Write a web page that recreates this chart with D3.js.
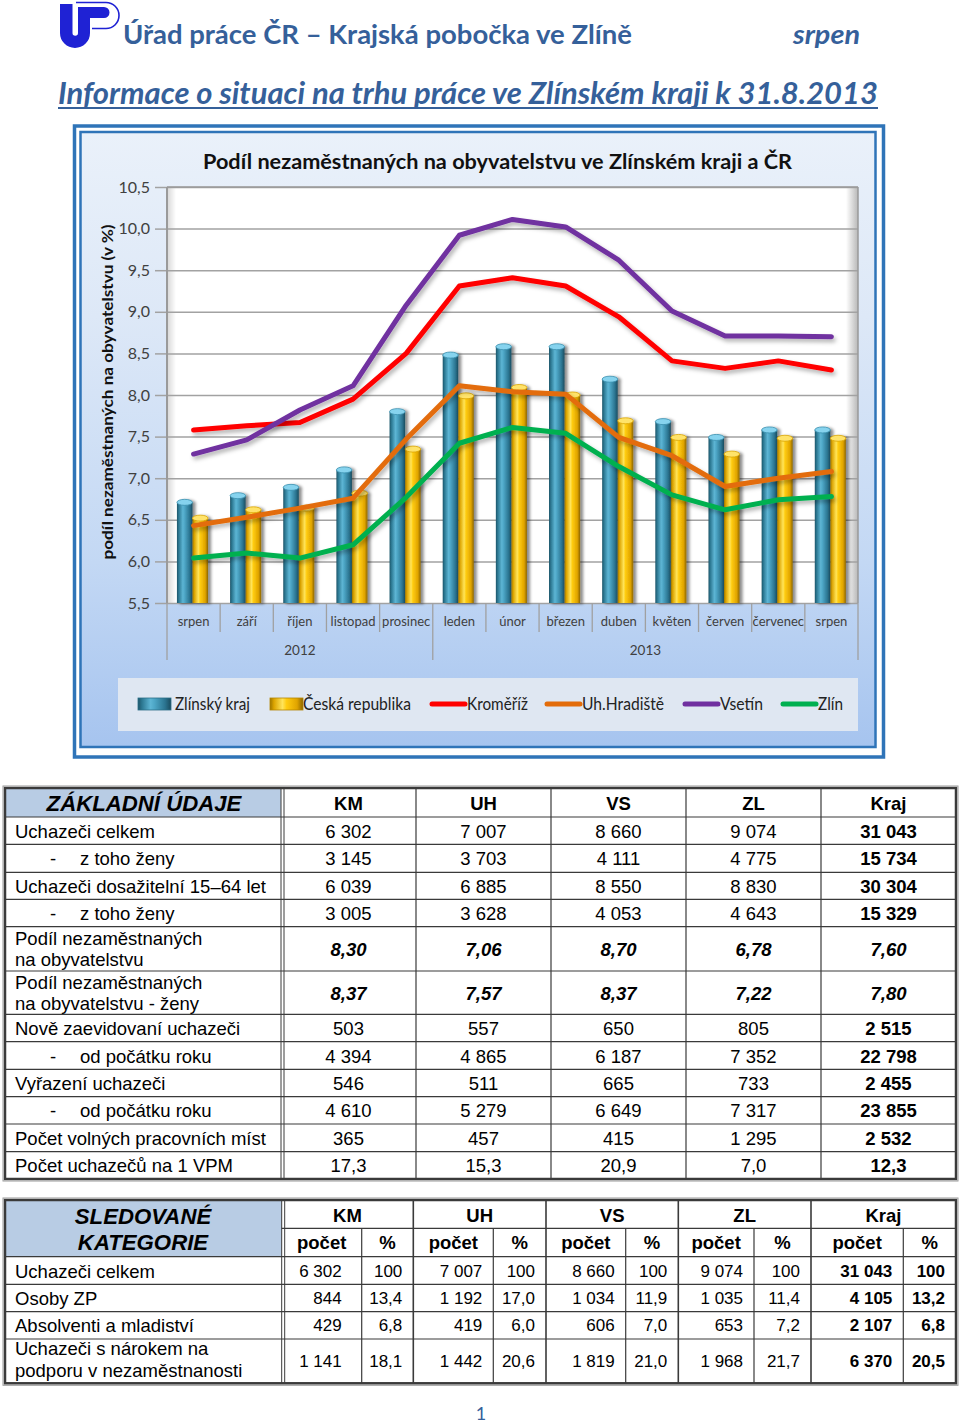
<!DOCTYPE html>
<html><head><meta charset="utf-8">
<script src="https://cdn.jsdelivr.net/npm/d3@7"></script>
<style>
html,body{margin:0;padding:0;background:#fff;}
svg{display:block;}
</style></head><body>
<svg id="page" width="960" height="1427"></svg>
<script>
// ---------------- DATA ----------------
const headerTitle = "Úřad práce ČR – Krajská pobočka ve Zlíně";
const headerMonth = "srpen";
const subTitle = "Informace o situaci na trhu práce ve Zlínském kraji k 31.8.2013";
const chartTitle = "Podíl nezaměstnaných na obyvatelstvu ve Zlínském kraji a ČR";
const yAxisTitle = "podíl nezaměstnaných na obyvatelstvu (v %)";

const months = ["srpen","září","říjen","listopad","prosinec","leden","únor","březen","duben","květen","červen","červenec","srpen"];
const years = ["2012","2013"];
const yearStart = [0, 5];
const yearEnd = [5, 13];
const yTicks = [5.5, 6.0, 6.5, 7.0, 7.5, 8.0, 8.5, 9.0, 9.5, 10.0, 10.5];

const zlinskyKraj     = [6.71, 6.79, 6.89, 7.10, 7.80, 8.48, 8.58, 8.58, 8.19, 7.68, 7.49, 7.58, 7.58];
const ceskaRepublika  = [6.52, 6.62, 6.64, 6.82, 7.35, 7.99, 8.09, 8.00, 7.69, 7.49, 7.29, 7.48, 7.48];
const kromeriz        = [7.58, 7.63, 7.67, 7.95, 8.50, 9.31, 9.41, 9.31, 8.94, 8.41, 8.32, 8.41, 8.30];
const uhHradiste      = [6.43, 6.53, 6.64, 6.76, 7.47, 8.11, 8.04, 8.01, 7.49, 7.27, 6.90, 7.00, 7.08];
const vsetin          = [7.29, 7.46, 7.82, 8.11, 9.08, 9.92, 10.11, 10.02, 9.62, 9.01, 8.71, 8.71, 8.70];
const zlin            = [6.04, 6.10, 6.04, 6.20, 6.77, 7.42, 7.61, 7.54, 7.14, 6.80, 6.62, 6.74, 6.78];

const barSeriesNames = ["Zlínský kraj", "Česká republika"];
const lineSeriesNames = ["Kroměříž", "Uh.Hradiště", "Vsetín", "Zlín"];

// table 1
const table1Title = "ZÁKLADNÍ ÚDAJE";
const table1Cols = ["KM","UH","VS","ZL","Kraj"];
const table1Labels = ["Uchazeči celkem","z toho ženy","Uchazeči dosažitelní 15–64 let","z toho ženy",
  "Podíl nezaměstnaných|na obyvatelstvu","Podíl nezaměstnaných|na obyvatelstvu - ženy",
  "Nově zaevidovaní uchazeči","od počátku roku","Vyřazení uchazeči","od počátku roku",
  "Počet volných pracovních míst","Počet uchazečů na 1 VPM"];
const table1Values = [
  ["6 302","7 007","8 660","9 074","31 043"],
  ["3 145","3 703","4 111","4 775","15 734"],
  ["6 039","6 885","8 550","8 830","30 304"],
  ["3 005","3 628","4 053","4 643","15 329"],
  ["8,30","7,06","8,70","6,78","7,60"],
  ["8,37","7,57","8,37","7,22","7,80"],
  ["503","557","650","805","2 515"],
  ["4 394","4 865","6 187","7 352","22 798"],
  ["546","511","665","733","2 455"],
  ["4 610","5 279","6 649","7 317","23 855"],
  ["365","457","415","1 295","2 532"],
  ["17,3","15,3","20,9","7,0","12,3"]
];
const table1SubRows = [1,3,7,9];
const table1RateRows = [4,5];

// table 2
const table2Title = ["SLEDOVANÉ","KATEGORIE"];
const table2Groups = ["KM","UH","VS","ZL","Kraj"];
const table2SubHeads = ["počet","%"];
const table2Labels = ["Uchazeči celkem","Osoby ZP","Absolventi a mladiství","Uchazeči s nárokem na|podporu v nezaměstnanosti"];
const table2Values = [
  ["6 302","100","7 007","100","8 660","100","9 074","100","31 043","100"],
  ["844","13,4","1 192","17,0","1 034","11,9","1 035","11,4","4 105","13,2"],
  ["429","6,8","419","6,0","606","7,0","653","7,2","2 107","6,8"],
  ["1 141","18,1","1 442","20,6","1 819","21,0","1 968","21,7","6 370","20,5"]
];
const pageNumber = "1";

// ---------------- DRAW ----------------
const svg = d3.select("#page");
const defs = svg.append("defs");
const CAL = "Lato, 'Open Sans', sans-serif";
const ARIAL = "'Liberation Sans', Arial, sans-serif";
const HEAD = "#35609a";
const TF = 18.5;   // table label font
const TV2 = 17;    // table 2 values font

function lin(id, stops, vertical) {
  const g = defs.append("linearGradient").attr("id", id)
    .attr("x1",0).attr("y1",0).attr("x2", vertical?0:1).attr("y2", vertical?1:0);
  stops.forEach(s => g.append("stop").attr("offset", s[0]).attr("stop-color", s[1]).attr("stop-opacity", s[2]===undefined?1:s[2]));
}
lin("bgGrad", [[0,"#eaf1fa"],[0.3,"#dde8f7"],[0.7,"#c3d8f4"],[1,"#a6c4ef"]], true);
lin("tealGrad", [[0,"#1d5569"],[0.12,"#2c7892"],[0.38,"#5db5d4"],[0.5,"#4da6c6"],[0.82,"#2b7490"],[1,"#1a4b5e"]]);
lin("yellowGrad", [[0,"#9a7400"],[0.12,"#dca400"],[0.38,"#ffe45a"],[0.5,"#ffcc10"],[0.82,"#e0a400"],[1,"#8c6600"]]);
lin("leftWall", [[0,"#000",0.16],[1,"#000",0]]);
lin("rightWall", [[0,"#000",0],[1,"#000",0.28]]);

const fb = defs.append("filter").attr("id","barShadow").attr("x","-50%").attr("y","-10%").attr("width","200%").attr("height","120%");
fb.append("feDropShadow").attr("dx",3).attr("dy",1).attr("stdDeviation",1.6).attr("flood-color","#000").attr("flood-opacity",0.45);
const fl = defs.append("filter").attr("id","lineShadow").attr("x","-10%").attr("y","-20%").attr("width","120%").attr("height","140%");
fl.append("feDropShadow").attr("dx",2).attr("dy",3).attr("stdDeviation",2).attr("flood-color","#000").attr("flood-opacity",0.3);

// ---- header ----
const logo = svg.append("g");
logo.append("path")
  .attr("d","M60,4 H72.5 V33 A2.75,2.75 0 0 0 78,33 V7 H104 A5.5,5.5 0 0 1 104,18 H90 V33 A15,15 0 0 1 60,33 Z")
  .attr("fill","#1f22d4");
logo.append("path").attr("d","M76,2.5 H106 A13,13 0 0 1 106,28.5 H92")
  .attr("fill","none").attr("stroke","#1f22d4").attr("stroke-width",1.6);

svg.append("text").attr("x",123).attr("y",44).attr("font-family",CAL).attr("font-weight",700)
  .attr("font-size",27).attr("fill",HEAD).attr("textLength",509).attr("lengthAdjust","spacingAndGlyphs").text(headerTitle);
svg.append("text").attr("x",793).attr("y",44).attr("font-family",CAL).attr("font-weight",700).attr("font-style","italic")
  .attr("font-size",27).attr("fill",HEAD).attr("textLength",67).attr("lengthAdjust","spacingAndGlyphs").text(headerMonth);
svg.append("text").attr("x",58).attr("y",104).attr("font-family",CAL).attr("font-weight",700).attr("font-style","italic")
  .attr("font-size",30).attr("fill",HEAD).attr("textLength",820).attr("lengthAdjust","spacingAndGlyphs").text(subTitle);
svg.append("line").attr("x1",58).attr("x2",878).attr("y1",108).attr("y2",108).attr("stroke",HEAD).attr("stroke-width",2);

// ---- chart frame ----
svg.append("rect").attr("x",74.5).attr("y",126).attr("width",809).attr("height",631)
  .attr("fill","#fff").attr("stroke","#2f74b8").attr("stroke-width",3.5);
svg.append("rect").attr("x",80.5).attr("y",132).attr("width",795).attr("height",615)
  .attr("fill","url(#bgGrad)").attr("stroke","#2f74b8").attr("stroke-width",2.5);

svg.append("text").attr("x",497.5).attr("y",169).attr("text-anchor","middle").attr("font-family",CAL)
  .attr("font-weight",700).attr("font-size",20.5).attr("fill","#111").attr("textLength",589)
  .attr("lengthAdjust","spacingAndGlyphs").text(chartTitle);

const PL = 167, PR = 858, PT = 187, PB = 603;
const x0 = d3.scaleBand().domain(d3.range(months.length)).range([PL, PR]);
const x1 = d3.scaleBand().domain([0,1]).range([0, x0.bandwidth()]).paddingInner(0).paddingOuter(0.71).align(0.45);
const y = d3.scaleLinear().domain([5.5, 10.5]).range([PB, PT]);

// plot wall
svg.append("rect").attr("x",PL).attr("y",PT).attr("width",PR-PL).attr("height",PB-PT).attr("fill","#fff");
svg.append("rect").attr("x",PL).attr("y",PT).attr("width",9).attr("height",PB-PT).attr("fill","url(#leftWall)");
svg.append("rect").attr("x",PR-12).attr("y",PT).attr("width",12).attr("height",PB-PT).attr("fill","url(#rightWall)");

// grid
svg.append("g").attr("transform",`translate(${PL},0)`)
  .call(d3.axisLeft(y).tickValues(yTicks).tickSize(-(PR-PL)).tickFormat(""))
  .call(g => g.select(".domain").remove())
  .call(g => g.selectAll("line").attr("stroke","#a2a2a2").attr("stroke-width",1.5));

// y axis
svg.append("g").attr("transform",`translate(${PL},0)`)
  .call(d3.axisLeft(y).tickValues(yTicks).tickSize(12).tickPadding(5).tickFormat(d => d.toFixed(1).replace(".",",")))
  .call(g => g.select(".domain").remove())
  .call(g => g.selectAll("line").attr("stroke","#a2a2a2").attr("stroke-width",1.5))
  .call(g => g.selectAll("text").attr("font-family",CAL).attr("font-size",16).attr("fill","#404040"));
svg.append("line").attr("x1",PL).attr("x2",PL).attr("y1",PT).attr("y2",PB).attr("stroke","#9a9a9a").attr("stroke-width",2);
svg.append("line").attr("x1",PR).attr("x2",PR).attr("y1",PT).attr("y2",PB).attr("stroke","#9a9a9a").attr("stroke-width",1.5);
svg.append("line").attr("x1",PL).attr("x2",PR).attr("y1",PT).attr("y2",PT).attr("stroke","#9a9a9a").attr("stroke-width",1.5);

svg.append("text").attr("transform","translate(108,392) rotate(-90)").attr("text-anchor","middle")
  .attr("dy","0.35em").attr("font-family",CAL).attr("font-weight",700).attr("font-size",15.5)
  .attr("fill","#111").attr("textLength",335).attr("lengthAdjust","spacingAndGlyphs").text(yAxisTitle);

// x axis labels
svg.append("g").attr("transform",`translate(0,${PB})`)
  .call(d3.axisBottom(x0).tickSize(0).tickPadding(14).tickFormat(i => months[i]))
  .call(g => g.select(".domain").remove())
  .call(g => g.selectAll("text").attr("font-family",CAL).attr("font-size",13).attr("fill","#404040"));
const edges = d3.range(months.length + 1).map(i => i < months.length ? x0(i) : x0(months.length-1) + x0.bandwidth());
svg.append("g").selectAll("line").data(edges).join("line")
  .attr("x1",d=>d).attr("x2",d=>d).attr("y1",PB)
  .attr("y2",(d,i)=> (yearStart.includes(i) || i===months.length) ? 660 : 632)
  .attr("stroke","#a0a0a0").attr("stroke-width",1.3);
svg.append("g").selectAll("text").data(years).join("text")
  .attr("x",(d,i)=> (edges[yearStart[i]] + edges[yearEnd[i]]) / 2).attr("y",655)
  .attr("text-anchor","middle").attr("font-family",CAL).attr("font-size",13.5).attr("fill","#404040").text(d=>d);

// bars
const barData = [];
months.forEach((m,i) => {
  barData.push({i, s:0, v: zlinskyKraj[i]});
  barData.push({i, s:1, v: ceskaRepublika[i]});
});
const bw = x1.bandwidth();
const bars = svg.append("g").selectAll("g").data(barData).join("g").attr("filter","url(#barShadow)");
bars.append("rect").attr("x",d=>x0(d.i)+x1(d.s)).attr("y",d=>y(d.v)).attr("width",bw)
  .attr("height",d=>PB - y(d.v)).attr("fill",d=> d.s===0 ? "url(#tealGrad)" : "url(#yellowGrad)");
bars.append("ellipse").attr("cx",d=>x0(d.i)+x1(d.s)+bw/2).attr("cy",d=>y(d.v)).attr("rx",bw/2).attr("ry",3)
  .attr("fill",d=> d.s===0 ? "#86d3ee" : "#ffe36a").attr("stroke",d=> d.s===0 ? "#3a8fae" : "#d9a300").attr("stroke-width",0.8);

// lines
const lineSeries = [kromeriz, uhHradiste, vsetin, zlin];
const lineColors = ["#ff0000","#e36c0a","#7030a0","#00b050"];
const lineGen = d3.line().x((d,i)=>x0(i)+x0.bandwidth()/2).y(d=>y(d));
svg.append("g").selectAll("path").data(lineSeries).join("path")
  .attr("d",lineGen).attr("fill","none").attr("stroke",(d,i)=>lineColors[i])
  .attr("stroke-width",5).attr("stroke-linejoin","round").attr("stroke-linecap","round")
  .attr("filter","url(#lineShadow)");

// legend
svg.append("rect").attr("x",118).attr("y",678).attr("width",740).attr("height",53).attr("fill","#dfe7f2");
const legBars = [{x:138, tx:175, tl:75}, {x:270, tx:303, tl:108}];
legBars.forEach((p,k) => {
  svg.append("rect").attr("x",p.x).attr("y",698).attr("width",33).attr("height",12)
    .attr("fill", k===0 ? "url(#tealGrad)" : "url(#yellowGrad)").attr("stroke", k===0?"#2b6f88":"#b48600").attr("stroke-width",0.8);
  svg.append("text").attr("x",p.tx).attr("y",709.5).attr("font-family",CAL).attr("font-size",16.5).attr("fill","#222")
    .attr("textLength",p.tl).attr("lengthAdjust","spacingAndGlyphs").text(barSeriesNames[k]);
});
const legLines = [{x:432, tx:467, tl:61}, {x:547, tx:582, tl:82}, {x:685, tx:720, tl:43}, {x:783, tx:818, tl:25}];
legLines.forEach((p,k) => {
  svg.append("line").attr("x1",p.x).attr("x2",p.x+33).attr("y1",704).attr("y2",704)
    .attr("stroke",lineColors[k]).attr("stroke-width",5).attr("stroke-linecap","round");
  svg.append("text").attr("x",p.tx).attr("y",709.5).attr("font-family",CAL).attr("font-size",16.5).attr("fill","#222")
    .attr("textLength",p.tl).attr("lengthAdjust","spacingAndGlyphs").text(lineSeriesNames[k]);
});

// ---------------- TABLE 1 ----------------
const t1 = svg.append("g");
const r1 = [788, 817, 844.3, 872.3, 899.3, 926.7, 971, 1014.3, 1041.7, 1069.3, 1096.7, 1124, 1151.7, 1179];
const c1 = [5, 281, 416, 551, 686, 821, 956];
t1.append("rect").attr("x",c1[0]).attr("y",r1[0]).attr("width",c1[1]-c1[0]).attr("height",r1[1]-r1[0]).attr("fill","#b8cce4");
r1.slice(1,-1).forEach(yy => t1.append("line").attr("x1",c1[0]).attr("x2",c1[6]).attr("y1",yy).attr("y2",yy).attr("stroke","#3a3a3a").attr("stroke-width",1.2));
c1.slice(2,-1).forEach(xx => t1.append("line").attr("x1",xx).attr("x2",xx).attr("y1",r1[0]).attr("y2",r1[r1.length-1]).attr("stroke","#3a3a3a").attr("stroke-width",1.2));
[c1[1], c1[1]+3].forEach(xx => t1.append("line").attr("x1",xx).attr("x2",xx).attr("y1",r1[0]).attr("y2",r1[r1.length-1]).attr("stroke","#3a3a3a").attr("stroke-width",1));
t1.append("rect").attr("x",c1[0]).attr("y",r1[0]).attr("width",c1[6]-c1[0]).attr("height",r1[r1.length-1]-r1[0])
  .attr("fill","none").attr("stroke","#3a3a3a").attr("stroke-width",2.5);
t1.append("rect").attr("x",c1[0]-2).attr("y",r1[0]-2).attr("width",c1[6]-c1[0]+4).attr("height",r1[r1.length-1]-r1[0]+4)
  .attr("fill","none").attr("stroke","#9a9a9a").attr("stroke-width",1);

t1.append("text").attr("x",(c1[0]+c1[1])/2+1).attr("y",810.5).attr("text-anchor","middle").attr("font-family",ARIAL)
  .attr("font-weight",700).attr("font-style","italic").attr("font-size",22.2).attr("fill","#000").text(table1Title);
table1Cols.forEach((c,j) => t1.append("text").attr("x",(c1[j+1]+c1[j+2])/2).attr("y",810).attr("text-anchor","middle")
  .attr("font-family",ARIAL).attr("font-weight",700).attr("font-size",TF).text(c));
table1Labels.forEach((lab,i) => {
  const top = r1[i+1], bot = r1[i+2], mid = (top+bot)/2;
  const parts = lab.split("|");
  if (table1SubRows.includes(i)) {
    t1.append("text").attr("x",50).attr("y",mid+7).attr("font-family",ARIAL).attr("font-size",TF).text("-");
    t1.append("text").attr("x",80).attr("y",mid+7).attr("font-family",ARIAL).attr("font-size",TF).text(parts[0]);
  } else if (parts.length === 2) {
    t1.append("text").attr("x",15).attr("y",mid-3.5).attr("font-family",ARIAL).attr("font-size",TF).text(parts[0]);
    t1.append("text").attr("x",15).attr("y",mid+17).attr("font-family",ARIAL).attr("font-size",TF).text(parts[1]);
  } else {
    t1.append("text").attr("x",15).attr("y",mid+7).attr("font-family",ARIAL).attr("font-size",TF).text(parts[0]);
  }
  table1Values[i].forEach((v,j) => {
    const rate = table1RateRows.includes(i);
    t1.append("text").attr("x",(c1[j+1]+c1[j+2])/2).attr("y",mid+7).attr("text-anchor","middle")
      .attr("font-family",ARIAL).attr("font-size",TF)
      .attr("font-weight", (rate || j===4) ? 700 : 400).attr("font-style", rate ? "italic" : "normal").text(v);
  });
});

// ---------------- TABLE 2 ----------------
const t2 = svg.append("g");
const r2 = [1200, 1228.3, 1256.7, 1284.3, 1311.7, 1339, 1383.3];
const c2 = [5, 281.7, 361.7, 413.3, 493.3, 546, 625.7, 678.3, 754, 811, 903.3, 956];
t2.append("rect").attr("x",c2[0]).attr("y",r2[0]).attr("width",c2[1]-c2[0]).attr("height",r2[2]-r2[0]).attr("fill","#b8cce4");
t2.append("line").attr("x1",c2[1]).attr("x2",c2[11]).attr("y1",r2[1]).attr("y2",r2[1]).attr("stroke","#3a3a3a").attr("stroke-width",1.2);
r2.slice(2,-1).forEach(yy => t2.append("line").attr("x1",c2[0]).attr("x2",c2[11]).attr("y1",yy).attr("y2",yy).attr("stroke","#3a3a3a").attr("stroke-width",1.2));
c2.slice(2,-1).forEach((xx,k) => {
  const groupEdge = (k % 2 === 1);
  t2.append("line").attr("x1",xx).attr("x2",xx).attr("y1", groupEdge ? r2[0] : r2[1]).attr("y2",r2[r2.length-1])
    .attr("stroke","#3a3a3a").attr("stroke-width", groupEdge ? 1.6 : 1.2);
});
[c2[1], c2[1]+3].forEach(xx => t2.append("line").attr("x1",xx).attr("x2",xx).attr("y1",r2[0]).attr("y2",r2[r2.length-1]).attr("stroke","#3a3a3a").attr("stroke-width",1));
t2.append("rect").attr("x",c2[0]).attr("y",r2[0]).attr("width",c2[11]-c2[0]).attr("height",r2[r2.length-1]-r2[0])
  .attr("fill","none").attr("stroke","#3a3a3a").attr("stroke-width",2.5);
t2.append("rect").attr("x",c2[0]-2).attr("y",r2[0]-2).attr("width",c2[11]-c2[0]+4).attr("height",r2[r2.length-1]-r2[0]+4)
  .attr("fill","none").attr("stroke","#9a9a9a").attr("stroke-width",1);

table2Title.forEach((t,k) => t2.append("text").attr("x",143).attr("y",k===0?1223.5:1250).attr("text-anchor","middle")
  .attr("font-family",ARIAL).attr("font-weight",700).attr("font-style","italic").attr("font-size",22.2).text(t));
table2Groups.forEach((g,j) => {
  t2.append("text").attr("x",(c2[1+2*j]+c2[3+2*j])/2).attr("y",1221.5).attr("text-anchor","middle")
    .attr("font-family",ARIAL).attr("font-weight",700).attr("font-size",TF).text(g);
  table2SubHeads.forEach((s,k) => t2.append("text").attr("x",(c2[1+2*j+k]+c2[2+2*j+k])/2).attr("y",1248.5)
    .attr("text-anchor","middle").attr("font-family",ARIAL).attr("font-weight",700).attr("font-size",TF).text(s));
});
table2Labels.forEach((lab,i) => {
  const top = r2[i+2], bot = r2[i+3], mid = (top+bot)/2;
  const parts = lab.split("|");
  if (parts.length === 2) {
    t2.append("text").attr("x",15).attr("y",mid-6.5).attr("font-family",ARIAL).attr("font-size",TF).text(parts[0]);
    t2.append("text").attr("x",15).attr("y",mid+15.5).attr("font-family",ARIAL).attr("font-size",TF).text(parts[1]);
  } else {
    t2.append("text").attr("x",15).attr("y",mid+7).attr("font-family",ARIAL).attr("font-size",TF).text(parts[0]);
  }
  table2Values[i].forEach((v,j) => {
    const right = (j===0) ? c2[2]-20 : c2[j+2]-11;
    t2.append("text").attr("x",right).attr("y",mid+6).attr("text-anchor","end")
      .attr("font-family",ARIAL).attr("font-size",TV2).attr("font-weight", j>=8 ? 700 : 400).text(v);
  });
});

svg.append("text").attr("x",481).attr("y",1420).attr("text-anchor","middle").attr("font-family",CAL)
  .attr("font-size",18).attr("fill",HEAD).text(pageNumber);
</script>
</body></html>
